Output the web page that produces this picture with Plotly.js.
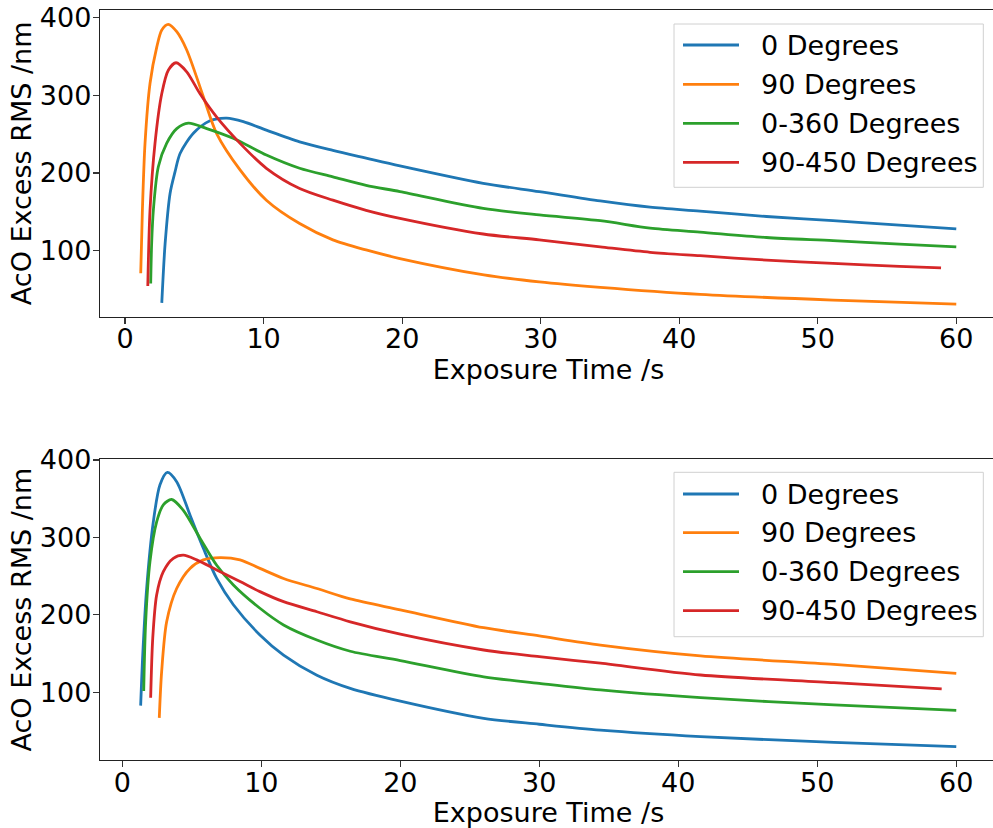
<!DOCTYPE html>
<html>
<head>
<meta charset="utf-8">
<script src="https://cdn.plot.ly/plotly-3.0.1.min.js"></script>
<style>
  html, body { margin: 0; padding: 0; overflow: hidden; background: #fff; }
  #chart { width: 1000px; height: 828px; }
</style>
</head>
<body>
<div id="chart"></div>
<script>
// ---- Data ----
const seriesNames = ["0 Degrees", "90 Degrees", "0-360 Degrees", "90-450 Degrees"];
const seriesColors = ["#1f77b4", "#ff7f0e", "#2ca02c", "#d62728"];

// Top panel
const topX_0 = [2.65, 2.89, 3.25, 3.6, 3.97, 4.93, 6.13, 7.34, 8.54, 10.2, 12.6, 15.0, 17.4, 19.84, 25.85, 29.9, 34.3, 37.9, 41.5, 46.3, 51.1, 55.9, 60];
const topY_0 = [33, 109, 174, 201, 225, 251, 267, 270.5, 266, 255, 240, 229, 219, 209, 186.6, 176, 164, 156, 151, 144, 138.6, 133, 128];

const topX_90 = [1.13, 1.25, 1.44, 1.8, 2.29, 2.65, 3.12, 3.73, 4.45, 5.65, 6.6, 8.3, 10.2, 12.6, 15.0, 17.4, 19.84, 25.9, 29.9, 34.3, 41.5, 51.1, 60];
const topY_90 = [71, 152, 238, 315, 362, 383.7, 391, 381.5, 358, 298, 251, 204, 165, 135, 114, 101, 90, 69, 60, 53, 44, 36.6, 31.5];

const topX_0_360 = [1.85, 1.92, 2.04, 2.4, 3.0, 3.73, 4.57, 5.9, 7.8, 10.2, 12.6, 15.0, 17.4, 19.84, 25.85, 29.9, 34.3, 37.9, 41.5, 46.3, 51.1, 55.9, 60];
const topY_0_360 = [58, 110, 152, 208, 238, 257, 264, 257, 244.5, 223, 206, 195, 184, 176, 154.5, 146, 138.6, 129, 124, 117, 113, 108.6, 105];

const topX_90_450 = [1.64, 1.8, 2.16, 2.65, 3.12, 3.68, 4.45, 5.4, 6.6, 8.3, 10.2, 12.6, 15.0, 17.4, 19.84, 25.85, 29.9, 34.3, 37.9, 41.5, 46.3, 51.1, 55.9, 58.9];
const topY_90_450 = [54.6, 152, 238, 302, 332, 341.6, 330, 302, 272, 238, 206, 180, 165, 152, 141.6, 121.5, 114, 105, 98, 93.6, 88, 83.8, 80, 78];

// Bottom panel
const botX_0 = [1.32, 1.47, 1.75, 2.23, 2.71, 3.24, 3.91, 4.87, 5.83, 6.79, 7.99, 9.9, 11.6, 14.0, 16.4, 20.0, 26.0, 30.0, 34.4, 41.6, 51.2, 60];
const botY_0 = [82.7, 148, 234, 320, 368, 384, 372, 329, 286, 247, 213, 174, 148, 122, 105, 88.5, 66.4, 58.7, 51, 42.7, 35.4, 29.7];

const botX_90 = [2.66, 2.83, 3.19, 3.91, 4.87, 5.83, 7.03, 8.47, 9.9, 11.6, 14.0, 16.4, 20.0, 26.0, 30.0, 34.4, 41.6, 51.2, 60];
const botY_90 = [67, 126.6, 191, 234, 260, 271, 274, 271, 260, 247, 234, 220.5, 206.5, 183.4, 172.7, 161, 147, 136, 124.5];

const botX_0_360 = [1.54, 1.68, 1.99, 2.47, 2.95, 3.55, 4.39, 5.59, 6.79, 7.99, 9.9, 11.6, 14.0, 16.4, 20.0, 26.0, 30.0, 34.4, 41.6, 51.2, 60];
const botY_0_360 = [101.7, 191, 268.7, 320, 342, 349, 335, 299, 264, 238.6, 208.5, 187, 167.5, 153, 141, 120, 111.6, 103, 93, 83.6, 76.7];

const botX_90_450 = [2.04, 2.19, 2.47, 2.95, 3.67, 4.39, 5.35, 6.79, 8.47, 9.9, 11.6, 14.0, 16.4, 20.0, 26.0, 30.0, 34.4, 41.6, 51.2, 58.95];
const botY_90_450 = [93, 170, 225.7, 255.8, 273, 277, 271, 258, 243, 230, 217, 204, 191, 175, 154.6, 146, 137.5, 122.3, 112.4, 104.3];

const xTickVals = [0, 10, 20, 30, 40, 50, 60];
const yTickVals = [100, 200, 300, 400];
const xTitle = "Exposure Time /s";
const yTitle = "AcO Excess RMS /nm";

// ---- Build traces ----
const FONT = "DejaVu Sans, Liberation Sans, sans-serif";
const FS = 27;
const W = 1000, H = 828;
const topXs = [topX_0, topX_90, topX_0_360, topX_90_450];
const topYs = [topY_0, topY_90, topY_0_360, topY_90_450];
const botXs = [botX_0, botX_90, botX_0_360, botX_90_450];
const botYs = [botY_0, botY_90, botY_0_360, botY_90_450];

const traces = [];
for (let i = 0; i < 4; i++) {
  traces.push({
    x: topXs[i], y: topYs[i], type: "scatter", mode: "lines",
    name: seriesNames[i], xaxis: "x", yaxis: "y", showlegend: false,
    line: { color: seriesColors[i], width: 2.8, shape: "spline", smoothing: 0.8 }
  });
}
for (let i = 0; i < 4; i++) {
  traces.push({
    x: botXs[i], y: botYs[i], type: "scatter", mode: "lines",
    name: seriesNames[i], xaxis: "x2", yaxis: "y2", showlegend: false,
    line: { color: seriesColors[i], width: 2.8, shape: "spline", smoothing: 0.8 }
  });
}

function xAxis(range, anchor) {
  return {
    domain: [0.1, 0.997], range: range, anchor: anchor,
    tickvals: xTickVals, ticks: "outside", ticklen: 6, tickwidth: 1.2, tickcolor: "#333",
    ticklabelstandoff: -8,
    showline: true, linecolor: "#222", linewidth: 1.2, mirror: true,
    showgrid: false, zeroline: false,
    tickfont: { family: FONT, size: FS, color: "#000" },
    title: { text: xTitle, font: { family: FONT, size: FS, color: "#000" }, standoff: 1 }
  };
}
function yAxis(range, domain, anchor) {
  return {
    domain: domain, range: range, anchor: anchor,
    tickvals: yTickVals, ticks: "outside", ticklen: 6, tickwidth: 1.2, tickcolor: "#333",
    ticklabelstandoff: -4,
    showline: true, linecolor: "#222", linewidth: 1.2, mirror: true,
    showgrid: false, zeroline: false,
    tickfont: { family: FONT, size: FS, color: "#000" },
    title: { text: yTitle, font: { family: FONT, size: FS, color: "#000" }, standoff: 0 }
  };
}

// ---- Legends (matplotlib-style boxes) ----
const px = v => v / W;
const py = v => 1 - v / H;
const shapes = [];
const annotations = [];
function addLegend(boxTop, boxBottom, rowCenters) {
  shapes.push({
    type: "rect", xref: "paper", yref: "paper", layer: "above",
    x0: px(674), x1: px(983.3), y0: py(boxBottom), y1: py(boxTop),
    fillcolor: "rgba(255,255,255,0.85)", line: { color: "#d0d0d0", width: 1 }
  });
  for (let i = 0; i < seriesNames.length; i++) {
    shapes.push({
      type: "line", xref: "paper", yref: "paper", layer: "above",
      x0: px(683), x1: px(739), y0: py(rowCenters[i]), y1: py(rowCenters[i]),
      line: { color: seriesColors[i], width: 2.8 }
    });
    annotations.push({
      xref: "paper", yref: "paper", x: px(759), y: py(rowCenters[i]),
      xanchor: "left", yanchor: "middle", showarrow: false,
      text: seriesNames[i], font: { family: FONT, size: FS, color: "#000" }
    });
  }
}
addLegend(24, 187.3, [45, 84.3, 123.3, 162.3]);
addLegend(472.3, 636.7, [494, 532.7, 571.7, 610.7]);

const layout = {
  width: W, height: H,
  margin: { l: 0, r: 0, t: 0, b: 0 },
  paper_bgcolor: "#fff", plot_bgcolor: "#fff",
  showlegend: false,
  xaxis: xAxis([-1.81, 62.94], "y"),
  yaxis: yAxis([15.2, 409.4], [0.6175, 0.9879], "x"),
  xaxis2: xAxis([-1.605, 62.93], "y2"),
  yaxis2: yAxis([12.5, 400.9], [0.0821, 0.4453], "x2"),
  shapes: shapes,
  annotations: annotations
};

Plotly.newPlot("chart", traces, layout, { displayModeBar: false, staticPlot: true });
</script>
</body>
</html>
